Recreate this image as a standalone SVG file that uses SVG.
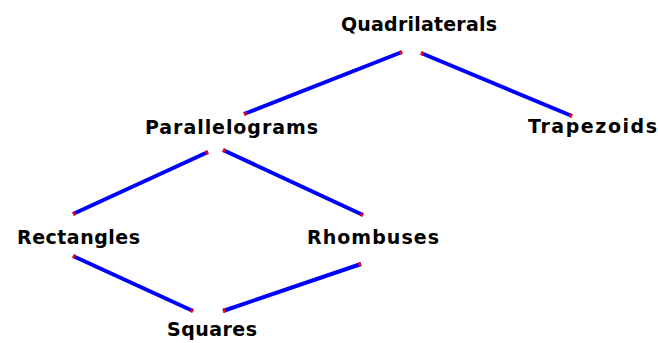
<svg xmlns="http://www.w3.org/2000/svg" width="658" height="343" viewBox="0 0 658 343">
<style>
.lbl{font-family:"DejaVu Sans","Liberation Sans",Arial,sans-serif;font-weight:bold;font-size:19px;fill:#000}
.edge{stroke:#0000ff;stroke-width:4;fill:none;stroke-linecap:butt;marker-start:url(#tip);marker-end:url(#tip)}
</style>
<defs>
<marker id="tip" markerUnits="userSpaceOnUse" viewBox="-3 -2.5 4 5" refX="0" refY="0" markerWidth="4" markerHeight="5" orient="auto-start-reverse">
<rect x="-2.5" y="-2" width="2.5" height="4" fill="#ff0000"/>
</marker>
</defs>
<rect width="658" height="343" fill="#ffffff"/>
<g id="connectors">
<line class="edge" x1="402" y1="52" x2="244" y2="114"/>
<line class="edge" x1="421" y1="53" x2="572" y2="116"/>
<line class="edge" x1="208" y1="152" x2="73" y2="214"/>
<line class="edge" x1="223" y1="150" x2="363" y2="215"/>
<line class="edge" x1="73" y1="256" x2="193" y2="311"/>
<line class="edge" x1="223" y1="311" x2="361" y2="264"/>
</g>
<g id="quadrilaterals"><text class="lbl" x="341" y="31" textLength="156" lengthAdjust="spacing">Quadrilaterals</text></g>
<g id="parallelograms"><text class="lbl" x="145" y="134" textLength="173" lengthAdjust="spacing">Parallelograms</text></g>
<g id="trapezoids"><text class="lbl" x="528" y="133" textLength="129" lengthAdjust="spacing">Trapezoids</text></g>
<g id="rectangles"><text class="lbl" x="17" y="244" textLength="123" lengthAdjust="spacing">Rectangles</text></g>
<g id="rhombuses"><text class="lbl" x="307" y="244" textLength="132" lengthAdjust="spacing">Rhombuses</text></g>
<g id="squares"><text class="lbl" x="167" y="336" textLength="90" lengthAdjust="spacing">Squares</text></g>
</svg>
